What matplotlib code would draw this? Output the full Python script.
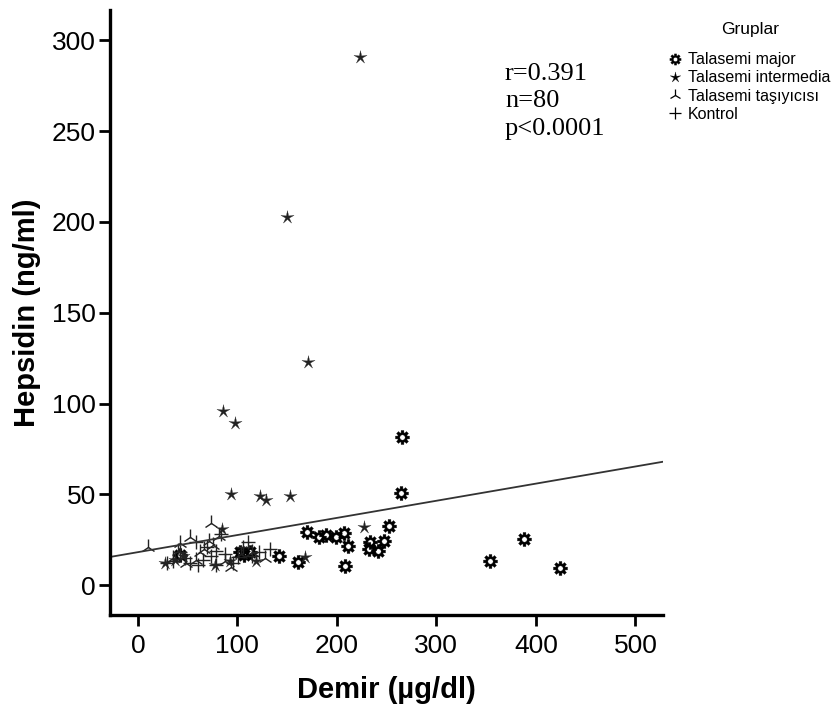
import numpy as np
import matplotlib.pyplot as plt
from matplotlib.path import Path
from matplotlib.lines import Line2D

# Demir (x) / Hepsidin (y) values per group
major_x = [42, 103, 107, 113, 142, 161, 170, 182, 189, 199, 207, 211, 208, 233, 232, 241, 247, 252, 264, 265, 354, 388, 424]
major_y = [16.5, 18.3, 16.5, 18, 16, 12.6, 29.3, 26.5, 27.5, 26.5, 28.7, 21.5, 10.3, 23.8, 20, 18.5, 24, 32.5, 50.7, 81.5, 13.2, 25.6, 9.5]

inter_x = [223, 150, 171, 86, 98, 94, 123, 129, 153, 227, 168, 85, 27, 45, 78, 119, 93, 37]
inter_y = [290.7, 203, 123, 95.6, 89, 50, 49, 46.7, 49, 32, 15.5, 31, 12, 16, 11, 13, 13, 14]

carrier_x = [10, 74, 52, 42, 71, 62, 128, 94, 35, 58, 82, 48, 66, 104, 88, 115, 40, 76]
carrier_y = [21, 34, 26.5, 23, 24, 18, 14.7, 10, 15, 14, 27, 12, 20, 17, 13, 18, 19, 22]

control_x = [111, 133, 58, 79, 29, 52, 79, 101, 69, 42, 88, 65, 96, 122, 47, 74, 84, 106, 35, 60, 115]
control_y = [23.8, 20, 23.8, 19, 12, 12, 11, 15.5, 21, 18, 17, 14, 12, 18, 15, 16, 28, 21, 13, 11, 16]

group_names = ["Talasemi major", "Talasemi intermedia", "Talasemi taşıyıcısı", "Kontrol"]

# total fit line
fit_intercept = 18.1
fit_slope = 0.0944

stats_text = "r=0.391\nn=80\np<0.0001"


def gear_marker(n_teeth=8, r_out=1.0, r_in=0.7, r_hole=0.38):
    verts = []
    half = np.pi / n_teeth * 0.5
    for i in range(n_teeth):
        a = 2 * np.pi * i / n_teeth
        verts += [(r_in * np.cos(a - half * 1.4), r_in * np.sin(a - half * 1.4)),
                  (r_out * np.cos(a - half), r_out * np.sin(a - half)),
                  (r_out * np.cos(a + half), r_out * np.sin(a + half)),
                  (r_in * np.cos(a + half * 1.4), r_in * np.sin(a + half * 1.4))]
    verts.append(verts[0])
    codes = [Path.MOVETO] + [Path.LINETO] * (len(verts) - 2) + [Path.CLOSEPOLY]
    t = np.linspace(0, -2 * np.pi, 25)
    hole = list(zip(r_hole * np.cos(t), r_hole * np.sin(t)))
    codes += [Path.MOVETO] + [Path.LINETO] * (len(hole) - 2) + [Path.CLOSEPOLY]
    return Path(verts + hole, codes)


def star_marker(n=5, r_out=1.0, r_in=0.28):
    verts = []
    for i in range(2 * n):
        r = r_out if i % 2 == 0 else r_in
        a = np.pi / 2 + np.pi * i / n
        verts.append((r * np.cos(a), r * np.sin(a)))
    verts.append(verts[0])
    codes = [Path.MOVETO] + [Path.LINETO] * (len(verts) - 2) + [Path.CLOSEPOLY]
    return Path(verts, codes)


gear = gear_marker()
star = star_marker()

fig = plt.figure(figsize=(8.32, 7.08), dpi=100)
ax = fig.add_axes([0.1322, 0.1314, 0.665, 0.855])

ax.plot(major_x, major_y, linestyle="none", marker=gear, ms=10, color="black", mew=0.3)
ax.plot(inter_x, inter_y, linestyle="none", marker=star, ms=10, color="#222222", mew=0.2)
ax.plot(carrier_x, carrier_y, linestyle="none", marker="2", ms=11, color="#222222", mew=1.0)
ax.plot(control_x, control_y, linestyle="none", marker="+", ms=10, color="#222222", mew=1.0)

xmin, xmax = -28, 528
xs = np.array([xmin, xmax])
ax.plot(xs, fit_intercept + fit_slope * xs, color="#333333", lw=1.3)

ax.set_xlim(xmin, xmax)
ax.set_ylim(-16.5, 317)
ax.set_xticks([0, 100, 200, 300, 400, 500])
ax.set_yticks([0, 50, 100, 150, 200, 250, 300])

for s in ["top", "right"]:
    ax.spines[s].set_visible(False)
for s in ["left", "bottom"]:
    ax.spines[s].set_linewidth(2.4)

ax.tick_params(direction="out", length=8, width=2, labelsize=19)
ax.tick_params(axis="y", pad=2)
ax.tick_params(axis="x", pad=6)
for lab in ax.get_xticklabels() + ax.get_yticklabels():
    lab.set_family("Liberation Sans")

ax.set_xlabel("Demir (µg/dl)", fontsize=21, fontweight="bold", family="Liberation Sans", labelpad=13)
ax.set_ylabel("Hepsidin (ng/ml)", fontsize=21, fontweight="bold", family="Liberation Sans", labelpad=8)

fig.text(505 / 832, 1 - 63 / 708, stats_text, fontsize=19, family="Liberation Serif",
         va="top", ha="left", linespacing=1.32)

handles = [
    Line2D([], [], linestyle="none", marker=gear, ms=8, color="black", mew=0.3),
    Line2D([], [], linestyle="none", marker=star, ms=8, color="black", mew=0.2),
    Line2D([], [], linestyle="none", marker="2", ms=9, color="black", mew=0.9),
    Line2D([], [], linestyle="none", marker="+", ms=9, color="black", mew=0.9),
]
leg = fig.legend(handles, group_names, loc="upper left", bbox_to_anchor=(670 / 832, 1 - 22 / 708),
                 frameon=False, title="Gruplar", handlelength=0.6, handletextpad=0.5,
                 labelspacing=0.2, prop={"family": "Liberation Sans", "size": 11.5},
                 borderpad=0, borderaxespad=0)
leg.get_title().set_fontsize(12.5)
leg.get_title().set_family("Liberation Sans")
leg._legend_box.sep = 11

fig.savefig("out.png", dpi=100)
